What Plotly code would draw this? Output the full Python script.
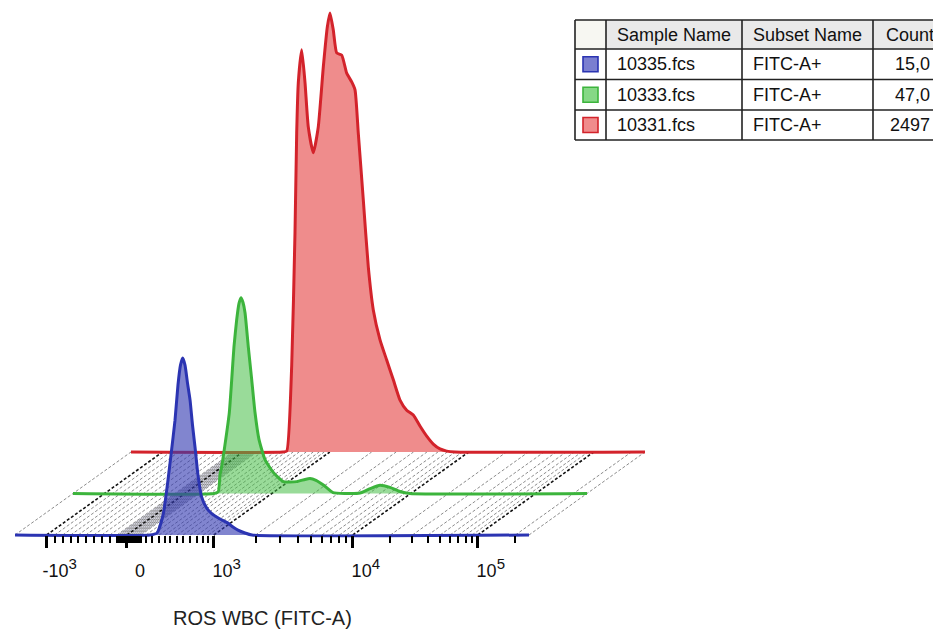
import math
import plotly.graph_objects as go

# ---------------- data (display channel 0..1024, % of max count) ----------------
BLUE_CH = [0, 268.9, 282.9, 294.9, 304.8, 310.8, 318.8, 324.7, 329.7, 334.1, 338.7, 343.7, 348.7,
           353.6, 358.6, 364.6, 371.9, 381.9, 392.5, 401.8, 412.4, 424.3, 434.2, 444.2, 458.2, 472.2, 1024]
BLUE_PCT = [0, 0, 0.45, 4.5, 12.5, 18.2, 26.1, 34.1, 38.6, 40.2, 38.6, 34.5, 30.7,
            25.0, 20.0, 13.6, 8.6, 6.1, 4.8, 4.1, 3.4, 2.7, 1.8, 1.1, 0.45, 0, 0]

GREEN_CH = [0, 280.9, 289.5, 292.9, 296.2, 302.8, 311.4, 316.2, 320.7, 326.1, 330.7, 334.7, 338.7,
            342.7, 349.2, 356.0, 362.6, 370.5, 382.5, 399.0, 418.9, 445.7, 462.2, 472.1, 484.1,
            498.1, 518.0, 541.9, 571.8, 591.7, 611.6, 631.5, 651.4, 671.4, 1024]
GREEN_PCT = [0, 0, 0.45, 4.3, 6.1, 11.1, 18.4, 25.9, 33.4, 39.5, 43.2, 44.5, 43.4,
             41.1, 33.4, 25.9, 18.4, 12.3, 7.7, 4.8, 2.7, 2.7, 3.2, 3.4, 3.0,
             2.0, 0.2, 0, 0.1, 1.1, 1.9, 1.4, 0.45, 0, 0]

RED_CH = [0, 302.8, 310.2, 320.1, 326.7, 330.1, 333.3, 340.1, 346.7, 353.2, 363.2, 373.1, 383.1,
          391.1, 396.4, 403.0, 409.8, 419.8, 429.7, 439.7, 446.3, 452.8, 462.8, 472.8, 482.7,
          496.1, 509.4, 522.6, 535.9, 549.2, 562.4, 575.7, 589.1, 602.2, 615.6, 628.9, 645.5, 1024]
RED_PCT = [0, 0, 0.2, 19.5, 49.8, 72.5, 83.9, 91.4, 83.9, 73.9, 68.0, 73.9, 87.5,
           96.6, 99.8, 95.9, 90.7, 90.2, 86.1, 84.1, 82.3, 72.5, 57.3, 42.0, 32.3,
           25.5, 20.9, 16.4, 11.8, 9.5, 8.4, 5.9, 3.6, 1.8, 0.7, 0.2, 0, 0]

SAMPLES = ["10335.fcs", "10333.fcs", "10331.fcs"]
SUBSETS = ["FITC-A+", "FITC-A+", "FITC-A+"]
COUNTS_SHOWN = ["15,0", "47,0", "2497"]
HEADERS = ["Sample Name", "Subset Name", "Count"]

MAJOR_TICK_CH = [63, 223, 396, 673, 922]
SUP = "<sup><span style='font-size:15px'>{}</span></sup>"
MAJOR_TICK_TEXT = ["-10" + SUP.format(3), "0", "10" + SUP.format(3), "10" + SUP.format(4), "10" + SUP.format(5)]
LINEAR_MINOR_CH = [79, 95, 111, 126, 141, 157, 173, 189,
                   203, 207, 211, 215, 219, 227, 231, 235, 239, 243, 247, 251,
                   261, 273, 287, 299, 309, 323, 335, 349, 363, 375, 385]
DECADE_CH = [396, 673, 922, 1171]

# ---------------- styles ----------------
LINE_COLORS = ["#2b34b2", "#3cb43c", "#d3232b"]
FILL_COLORS = ["rgba(52,58,178,0.62)", "rgba(70,190,70,0.55)", "rgba(238,134,134,0.95)"]
SWATCH_FILL = ["#7b7fd0", "#86d886", "#f08c8c"]

W, H = 933, 630
X0, DX, XLEN = 15, 58, 514          # layer start px, per-layer shift, axis length
B0, DY = 535, 41.5                 # blue baseline px, per-layer rise
PXU = 4.4                          # px per % unit
XR = [0, 1024]
YR = [-2, 101]


def xdom(i):
    s = X0 + DX * i
    return [s / W, (s + XLEN) / W]


def ydom(i):
    b = B0 - DY * i
    return [1 - (b - YR[0] * PXU) / H, 1 - (b - YR[1] * PXU) / H]


def px_x(i, ch):
    d = xdom(i)
    return d[0] + (ch - XR[0]) / (XR[1] - XR[0]) * (d[1] - d[0])


def px_y0(i):
    d = ydom(i)
    return d[0] + (0 - YR[0]) / (YR[1] - YR[0]) * (d[1] - d[0])


minor_ch = list(LINEAR_MINOR_CH)
for a, b in zip(DECADE_CH[:-1], DECADE_CH[1:]):
    for m in range(2, 10):
        p = a + (b - a) * math.log10(m)
        if p <= XR[1]:
            minor_ch.append(round(p, 1))

fig = go.Figure()
# draw back (red) to front (blue)
series = [(RED_CH, RED_PCT, 2), (GREEN_CH, GREEN_PCT, 1), (BLUE_CH, BLUE_PCT, 0)]
for k, (xs, ys, layer) in enumerate(series):
    ax = "" if k == 0 else str(k + 1)
    fig.add_trace(go.Scatter(
        x=xs, y=ys, xaxis="x" + ax, yaxis="y" + ax, mode="lines",
        line=dict(color=LINE_COLORS[layer], width=3, shape="spline", smoothing=0.5),
        fill="tozeroy", fillcolor=FILL_COLORS[layer], hoverinfo="skip", showlegend=False))

layout = dict(width=W, height=H, margin=dict(l=0, r=0, t=0, b=0),
              paper_bgcolor="white", plot_bgcolor="rgba(0,0,0,0)", showlegend=False)
for k, layer in enumerate([2, 1, 0]):
    ax = "" if k == 0 else str(k + 1)
    xa = dict(domain=xdom(layer), range=XR, visible=False, fixedrange=True)
    ya = dict(domain=ydom(layer), range=YR, visible=False, fixedrange=True)
    if k > 0:
        xa["anchor"] = "y" + ax
        ya["anchor"] = "x" + ax
    layout["xaxis" + ax] = xa
    layout["yaxis" + ax] = ya

# bottom visible axis (blue layer)
layout["xaxis3"].update(
    visible=True, anchor="free", position=px_y0(0), showline=False, showgrid=False, zeroline=False,
    tickmode="array", tickvals=MAJOR_TICK_CH, ticktext=MAJOR_TICK_TEXT,
    ticks="outside", ticklen=12, tickwidth=3, tickcolor="black",
    tickfont=dict(family="Liberation Sans, Arial", size=18, color="#111"),
    ticklabelshift=13, ticklabelstandoff=7,
    minor=dict(tickmode="array", tickvals=minor_ch, ticks="outside", ticklen=7,
               tickwidth=2, tickcolor="black", showgrid=False))
fig.update_layout(**layout)

shapes = []
# floor: grey band near zero
bx = [203, 251]
shapes.append(dict(type="path", xref="paper", yref="paper", layer="below",
                   path="M {} {} L {} {} L {} {} L {} {} Z".format(
                       px_x(0, bx[0]), px_y0(0), px_x(0, bx[1]), px_y0(0),
                       px_x(2, bx[1]), px_y0(2), px_x(2, bx[0]), px_y0(2)),
                   fillcolor="rgba(150,150,175,0.45)", line=dict(width=0)))
# floor lines
for ch in minor_ch + [XR[0], XR[1]]:
    shapes.append(dict(type="line", xref="paper", yref="paper", layer="below",
                       x0=px_x(0, ch), y0=px_y0(0), x1=px_x(2, ch), y1=px_y0(2),
                       line=dict(color="#8c8c8c", width=1, dash="3px,2px")))
for ch in MAJOR_TICK_CH:
    shapes.append(dict(type="line", xref="paper", yref="paper", layer="below",
                       x0=px_x(0, ch), y0=px_y0(0), x1=px_x(2, ch), y1=px_y0(2),
                       line=dict(color="#111", width=1.6, dash="3px,2px")))

# ---------------- table ----------------
COLS = [575, 606, 742, 873, 990]
ROWS = [20, 49, 79.5, 110, 140]


def PX(x):
    return x / W


def PY(y):
    return 1 - y / H


shapes.append(dict(type="rect", xref="paper", yref="paper", layer="above",
                   x0=PX(COLS[1]), x1=PX(COLS[-1]), y0=PY(ROWS[0]), y1=PY(ROWS[1]),
                   fillcolor="#e9e9e9", line=dict(width=0)))
shapes.append(dict(type="rect", xref="paper", yref="paper", layer="above",
                   x0=PX(COLS[0]), x1=PX(COLS[1]), y0=PY(ROWS[0]), y1=PY(ROWS[1]),
                   fillcolor="#f7f7f2", line=dict(width=0)))
shapes.append(dict(type="rect", xref="paper", yref="paper", layer="above",
                   x0=PX(COLS[0]), x1=PX(COLS[-1]), y0=PY(ROWS[1]), y1=PY(ROWS[-1]),
                   fillcolor="white", line=dict(width=0)))
for y in ROWS:
    shapes.append(dict(type="line", xref="paper", yref="paper", layer="above",
                       x0=PX(COLS[0]), x1=PX(COLS[-1]), y0=PY(y), y1=PY(y),
                       line=dict(color="#222", width=1.6)))
for x in COLS[:-1]:
    shapes.append(dict(type="line", xref="paper", yref="paper", layer="above",
                       x0=PX(x), x1=PX(x), y0=PY(ROWS[0]), y1=PY(ROWS[-1]),
                       line=dict(color="#222", width=1.6)))

annotations = []
TF = dict(family="Liberation Sans, Arial", size=18, color="#111")
hx = [615, 751, 884]
for j, htxt in enumerate(HEADERS):
    annotations.append(dict(xref="paper", yref="paper", x=PX(hx[j]), y=PY((ROWS[0] + ROWS[1]) / 2),
                            xanchor="left", yanchor="middle", text=htxt, showarrow=False, font=TF))
for r in range(3):
    yc = (ROWS[r + 1] + ROWS[r + 2]) / 2
    layer = r  # blue, green, red
    shapes.append(dict(type="rect", xref="paper", yref="paper", layer="above",
                       x0=PX(583), x1=PX(598), y0=PY(yc - 7.5), y1=PY(yc + 7.5),
                       fillcolor=SWATCH_FILL[layer], line=dict(color=LINE_COLORS[layer], width=1.6)))
    annotations.append(dict(xref="paper", yref="paper", x=PX(615), y=PY(yc), xanchor="left",
                            yanchor="middle", text=SAMPLES[r], showarrow=False, font=TF))
    annotations.append(dict(xref="paper", yref="paper", x=PX(751), y=PY(yc), xanchor="left",
                            yanchor="middle", text=SUBSETS[r], showarrow=False, font=TF))
    annotations.append(dict(xref="paper", yref="paper", x=PX(932), y=PY(yc), xanchor="right",
                            yanchor="middle", text=COUNTS_SHOWN[r], showarrow=False, font=TF))

annotations.append(dict(xref="paper", yref="paper", x=PX(262), y=PY(618), xanchor="center",
                        yanchor="middle", text="ROS WBC (FITC-A)", showarrow=False,
                        font=dict(family="Liberation Sans, Arial", size=20, color="#222")))

fig.update_layout(shapes=shapes, annotations=annotations)
fig.write_html("out.html", config={"displayModeBar": False},
               post_script="document.body.style.margin='0';")
